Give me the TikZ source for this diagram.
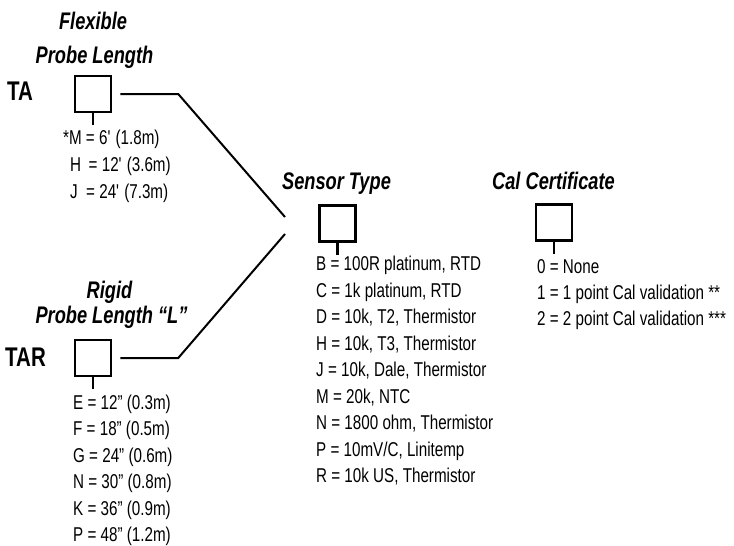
\documentclass[tikz,border=0pt]{standalone}
\usepackage{fontspec}
\setmainfont{Liberation Sans}[FakeStretch=0.76]
\usetikzlibrary{positioning}

\begin{document}
\begin{tikzpicture}[x=1pt,y=-1pt,
  codebox/.style={draw, line width=2.5pt, minimum size=36pt, inner sep=0pt},
  stem/.style={line width=2.5pt},
  link/.style={line width=2pt},
  title/.style={font=\fontsize{24}{28}\selectfont\bfseries\itshape, anchor=base, inner sep=0pt},
  model/.style={font=\fontsize{27}{32}\selectfont\bfseries, anchor=base west, inner sep=0pt},
  item/.style={font=\fontsize{20}{24}\selectfont, anchor=base west, inner sep=0pt}]
\useasboundingbox (0,0) rectangle (734,546);
% Code boxes
\node[codebox] (tabox) at (93,94) {};
\node[codebox] (tarbox) at (93,358) {};
\node[codebox] (sensbox) at (337.5,223.5) {};
\node[codebox] (calbox) at (554,222.5) {};
\foreach \b in {tabox, tarbox, sensbox, calbox} {
    \draw[stem] (\b.south) -- ++(0,12);
}
% Headings
\node[title] (flex) at (93,29) {Flexible};
\node[title] (flexlen) at (94.5,63) {Probe Length};
\node[title] (rigid) at (109.5,298) {Rigid};
\node[title] (rigidlen) at (111.5,323) {Probe Length “L”};
\node[title] (senstitle) at (336.5,189) {Sensor Type};
\node[title] (caltitle) at (553.5,189) {Cal Certificate};
\node[model] (ta) at (7,100) {TA};
\node[model] (tar) at (5,366) {TAR};
% Joining lines to the sensor type
\coordinate (jtop) at (285,217);
\coordinate (jbot) at (285,234);
\draw[link] ([xshift=8pt]tabox.east) -- ++(58,0) -- (jtop);
\draw[link] ([xshift=8pt]tarbox.east) -- ++(58,0) -- (jbot);
% Option lists
\foreach \t/\x [count=\i] in {{*M = 6\textquotesingle{} (1.8m)}/63, {H\,\ = 12\textquotesingle{} (3.6m)}/70, {J\ \ = 24\textquotesingle{} (7.3m)}/70} {
    \node[item] (ta-\i) at (\x,144.5+27*\i-27) {\t};
}
\foreach \t [count=\i] in {E = 12” (0.3m), F = 18” (0.5m), G = 24” (0.6m), N = 30” (0.8m), K = 36” (0.9m), P = 48” (1.2m)} {
    \node[item] (tar-\i) at (73,409.5+26.4*\i-26.4) {\t};
}
\foreach \t [count=\i] in {{B = 100R platinum, RTD}, {C = 1k platinum, RTD}, {D = 10k, T2, Thermistor}, {H = 10k, T3, Thermistor}, {J = 10k, Dale, Thermistor}, {M = 20k, NTC}, {N = 1800 ohm, Thermistor}, {P = 10mV/C, Linitemp}, {R = 10k US, Thermistor}} {
    \node[item] (sens-\i) at (316,270.5+26.5*\i-26.5) {\t};
}
\foreach \t [count=\i] in {0 = None, 1 = 1 point Cal validation **, 2 = 2 point Cal validation ***} {
    \node[item] (cal-\i) at (537,273.5+25.8*\i-25.8) {\t};
}
\end{tikzpicture}
\end{document}
